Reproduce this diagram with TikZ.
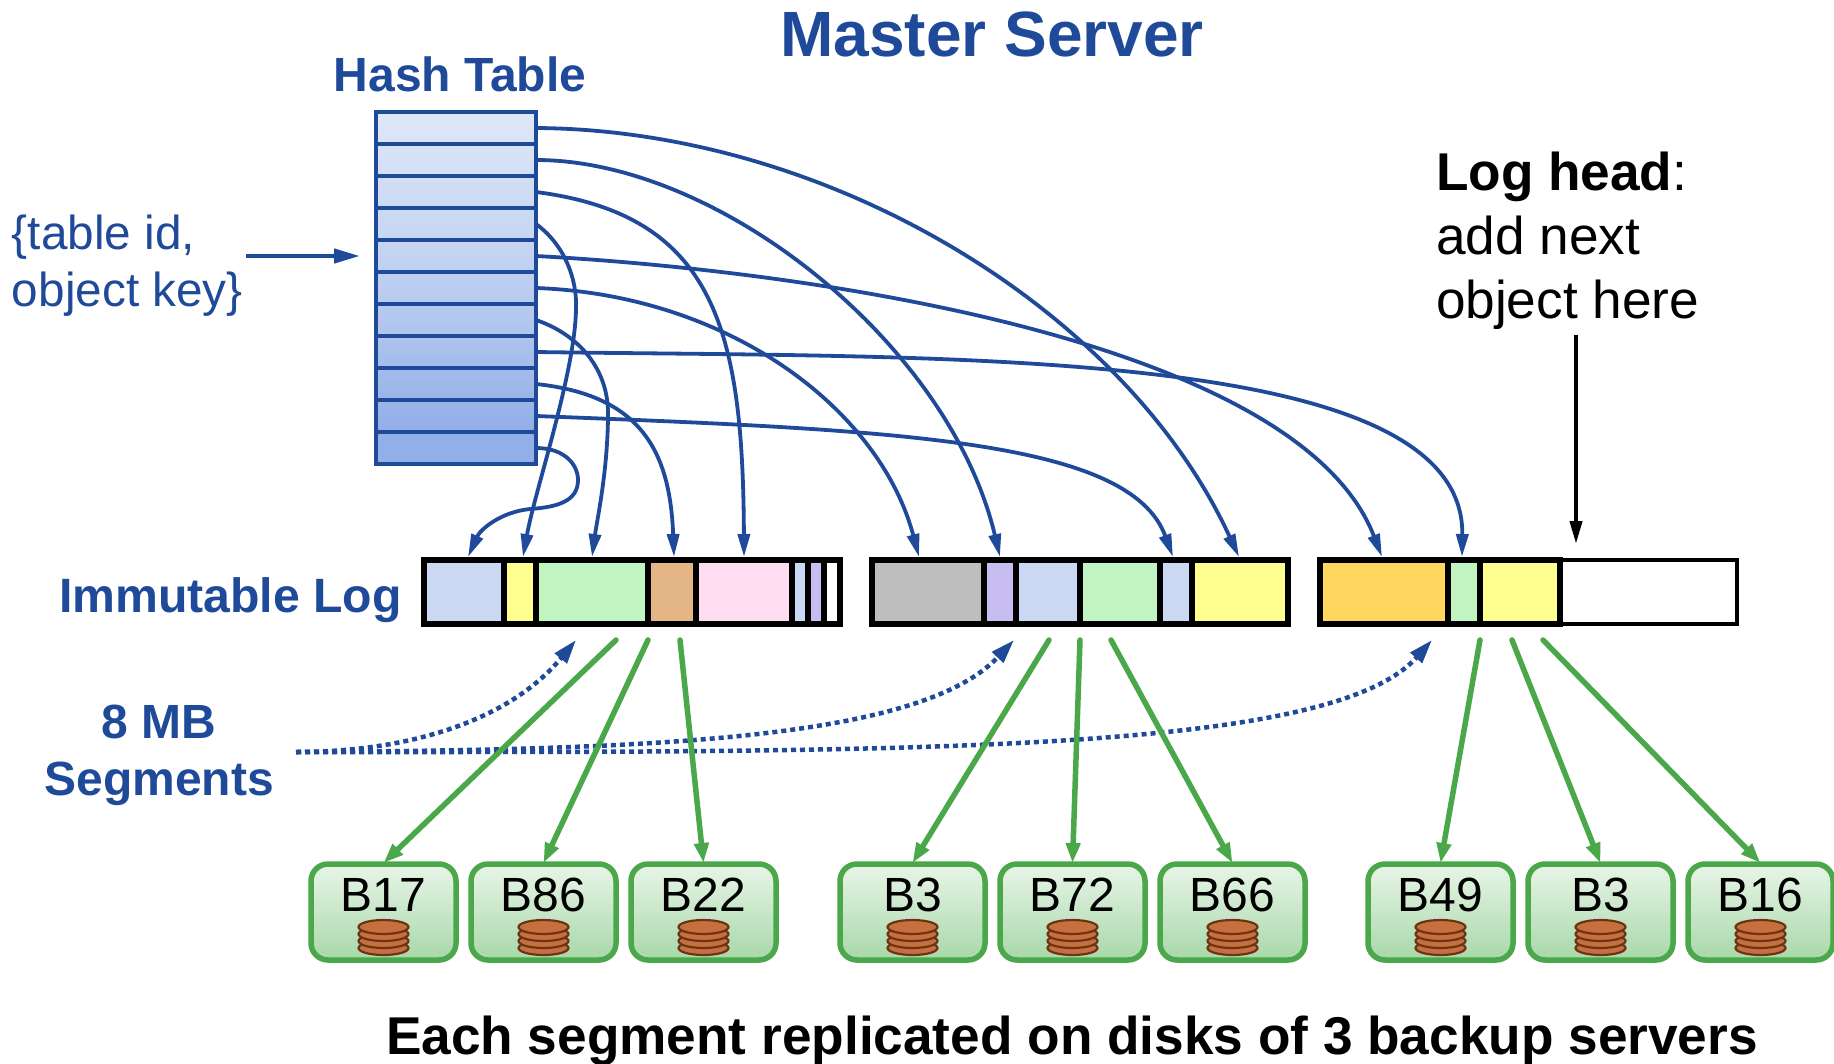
\documentclass[tikz,border=0pt]{standalone}
\usepackage{fontspec}
\setmainfont{Liberation Sans}
\usetikzlibrary{arrows.meta}
\definecolor{navy}{HTML}{1F4A9A}
\definecolor{hA}{HTML}{DFE8F8}
\definecolor{hB}{HTML}{93AFE8}
\definecolor{grn}{HTML}{4AA84A}
\definecolor{gA}{HTML}{E8F5E8}
\definecolor{gB}{HTML}{A8D8A8}
\definecolor{cblue}{HTML}{CCD9F4}
\definecolor{cyel}{HTML}{FFFF8F}
\definecolor{cgrn}{HTML}{C3F5C1}
\definecolor{ctan}{HTML}{E5B685}
\definecolor{cpink}{HTML}{FFDDF0}
\definecolor{clav}{HTML}{C8BDF0}
\definecolor{cgray}{HTML}{BEBEBE}
\definecolor{corg}{HTML}{FFD75E}
\definecolor{disk}{HTML}{C86F3F}
\definecolor{diskline}{HTML}{6B3418}
\tikzset{
  txt/.style={inner sep=0pt,outer sep=0pt},
  blueb/.style={txt,text=navy,font=\fontsize{48}{57}\selectfont\bfseries},
  rowbox/.style={draw=navy,line width=4pt,minimum width=160pt,minimum height=32pt,inner sep=0pt,outer sep=0pt},
  segbox/.style={draw=black,line width=6pt,minimum height=64pt,inner sep=0pt,outer sep=0pt},
  backupbox/.style={draw=grn,line width=5.5pt,rounded corners=17pt,minimum width=145pt,minimum height=96pt,inner sep=0pt,outer sep=0pt,top color=gA,bottom color=gB},
  ptr/.style={draw=navy,line width=3.8pt,-{Triangle[length=23pt,width=12pt]}},
  dotted arrow/.style={draw=navy,line width=4.5pt,dash pattern=on 5pt off 4pt,-{Triangle[length=24pt,width=15pt]}},
  repl/.style={draw=grn,line width=5.5pt,line cap=round,-{Triangle[length=20pt,width=14pt]}},
  diskplate/.style={draw=diskline,fill=disk,line width=2.2pt},
  backuplabel/.style={txt,font=\fontsize{48}{48}\selectfont,anchor=base},
}
\newcommand{\hrow}[3]{\node[rowbox,top color=hB!#2!hA,bottom color=hB!#3!hA] (r#1) at (456,{96+32*#1}) {};}
\newcommand{\seg}[4]{\node[segbox,fill=#4,minimum width={(#3-#2)*1pt}] (#1) at ({(#2+#3)/2},592) {};}
\newcommand{\backup}[3]{%
  \node[backupbox] (#1) at ({#2+73.5},912) {};
  \foreach \dy in {948,941,934,927} \draw[diskplate] (#1.center |- 0,\dy) ellipse (25pt and 7pt);
  \node[backuplabel] (#1t) at (#1.center |- 0,911) {#3};
}
\begin{document}
\begin{tikzpicture}[x=1pt,y=-1pt]
\useasboundingbox (0,0) rectangle (1834,1063);
% titles
\node[blueb,font=\fontsize{64}{64}\selectfont\bfseries,anchor=base] (title) at (992,56) {Master Server};
\node[blueb,anchor=base] (hashlabel) at (460,91) {Hash Table};
\node[blueb,anchor=base west,font=\fontsize{48.2}{57}\selectfont\bfseries] (immut) at (59,612) {Immutable Log};
\node[blueb,align=center,anchor=north] (mb) at (159,705) {8 MB\\Segments};
\node[txt,text=navy,font=\fontsize{47.7}{57}\selectfont,align=left,anchor=north west] (key) at (12,214.5) {\{table id,\\object key\}};
\node[txt,font=\fontsize{53.2}{64}\selectfont,align=left,anchor=north west] (head) at (1436,152) {\textbf{Log head}:\\add next\\object here};
\node[txt,font=\fontsize{53.2}{53}\selectfont\bfseries,anchor=base west] (bottom) at (386,1054) {Each segment replicated on disks of 3 backup servers};
% hash table
\hrow{1}{0}{8}\hrow{2}{8}{17}\hrow{3}{17}{25}\hrow{4}{25}{33}\hrow{5}{33}{42}\hrow{6}{42}{52}\hrow{7}{52}{64}\hrow{8}{64}{78}\hrow{9}{78}{90}\hrow{10}{90}{100}\hrow{11}{100}{100}
% segments
\seg{a1}{424}{504}{cblue}\seg{a2}{504}{536}{cyel}\seg{a3}{536}{648}{cgrn}\seg{a4}{648}{696}{ctan}\seg{a5}{696}{792}{cpink}\seg{a6}{792}{808}{cblue}\seg{a7}{808}{824}{clav}\seg{a8}{824}{840}{white}
\seg{c1}{872}{984}{cgray}\seg{c2}{984}{1016}{clav}\seg{c3}{1016}{1080}{cblue}\seg{c4}{1080}{1160}{cgrn}\seg{c5}{1160}{1192}{cblue}\seg{c6}{1192}{1288}{cyel}
\node[draw=black,fill=white,line width=4.5pt,minimum width=177pt,minimum height=64pt,inner sep=0pt,outer sep=0pt] (d4) at (1648.5,592) {};
\seg{d1}{1320}{1448}{corg}\seg{d2}{1448}{1480}{cgrn}\seg{d3}{1480}{1560}{cyel}
% backups
\backup{b1}{310}{B17}\backup{b2}{470}{B86}\backup{b3}{630}{B22}
\backup{b4}{839}{B3}\backup{b5}{999}{B72}\backup{b6}{1159}{B66}
\backup{b7}{1367}{B49}\backup{b8}{1527}{B3}\backup{b9}{1687}{B16}
% hash pointers
\draw[ptr] (r1.east) .. controls (830,130) and (1125,310) .. ([xshift=-1pt,yshift=3pt]c6.north);
\draw[ptr] (r2.east) .. controls (720,160) and (950,345) .. ([yshift=3pt]c2.north);
\draw[ptr] (r3.east) .. controls (715,215) and (743,330) .. ([yshift=3pt]a5.north);
\draw[ptr] (r4.east) .. controls (565,245) and (577,280) .. (576,307) .. controls (576,370) and (535,490) .. ([xshift=3pt,yshift=3pt]a2.north);
\draw[ptr] (r5.east) .. controls (830,272) and (1300,345) .. ([xshift=-2pt,yshift=3pt]d1.north);
\draw[ptr] (r6.east) .. controls (730,295) and (880,410) .. ([xshift=-9pt,yshift=3pt]c1.north);
\draw[ptr] (r7.east) .. controls (580,335) and (608,370) .. (608,413) .. controls (608,470) and (597,520) .. ([yshift=3pt]a3.north);
\draw[ptr] (r8.east) .. controls (950,358) and (1465,345) .. ([xshift=-2pt,yshift=3pt]d2.north);
\draw[ptr] (r9.east) .. controls (640,395) and (670,450) .. ([xshift=2pt,yshift=3pt]a4.north);
\draw[ptr] (r10.east) .. controls (900,430) and (1130,440) .. ([xshift=-3pt,yshift=3pt]c5.north);
\draw[ptr] (r11.east) .. controls (565,448) and (578,465) .. (578,480) .. controls (578,500) and (560,507) .. (530,509) .. controls (500,512) and (480,530) .. ([xshift=4pt,yshift=3pt]a1.north);
% key arrow
\coordinate (keyarrow) at (246,256);
\coordinate (keyend) at (360,256);
\draw[navy,line width=4.5pt,-{Triangle[length=26pt,width=14pt]}] (keyarrow) -- (keyend);
% log head
\coordinate (headstart) at (1576,335);
\coordinate (headend) at (1576,544);
\draw[black,line width=4pt,-{Triangle[length=23pt,width=12pt]}] (headstart) -- (headend);
% segments note
\coordinate (note) at (296,752);
\coordinate (n1) at (576,640);
\coordinate (n2) at (1014,640);
\coordinate (n3) at (1432,640);
\draw[dotted arrow] (note) .. controls (410,752) and (510,720) .. (n1);
\draw[dotted arrow] (note) .. controls (650,750) and (920,740) .. (n2);
\draw[dotted arrow] (note) .. controls (900,752) and (1330,755) .. (n3);
% replicas
\coordinate (g1) at (616,640);\coordinate (g2) at (648,640);\coordinate (g3) at (680,640);
\coordinate (g4) at (1049,640);\coordinate (g5) at (1080,640);\coordinate (g6) at (1111,640);
\coordinate (g7) at (1480,640);\coordinate (g8) at (1512,640);\coordinate (g9) at (1543,640);
\draw[repl] (g1) -- ([yshift=1pt]b1.north);
\draw[repl] (g2) -- ([yshift=1pt]b2.north);
\draw[repl] (g3) -- ([yshift=1pt]b3.north);
\draw[repl] (g4) -- ([yshift=1pt]b4.north);
\draw[repl] (g5) -- ([yshift=1pt]b5.north);
\draw[repl] (g6) -- ([yshift=1pt]b6.north);
\draw[repl] (g7) -- ([yshift=1pt]b7.north);
\draw[repl] (g8) -- ([yshift=1pt]b8.north);
\draw[repl] (g9) -- ([yshift=1pt]b9.north);
\end{tikzpicture}
\end{document}
